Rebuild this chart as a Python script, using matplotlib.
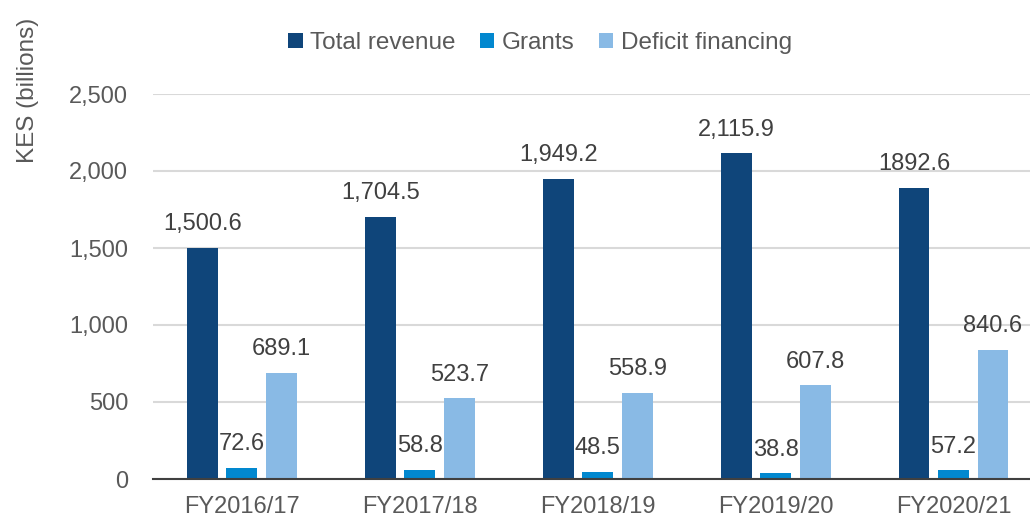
import numpy as np
import matplotlib.pyplot as plt

plt.rcParams['font.family'] = ['Liberation Sans', 'DejaVu Sans']

# Data
years = ['FY2016/17', 'FY2017/18', 'FY2018/19', 'FY2019/20', 'FY2020/21']
total_revenue = [1500.6, 1704.5, 1949.2, 2115.9, 1892.6]
grants = [72.6, 58.8, 48.5, 38.8, 57.2]
deficit = [689.1, 523.7, 558.9, 607.8, 840.6]
total_labels = ['1,500.6', '1,704.5', '1,949.2', '2,115.9', '1892.6']

c_total = '#0F457A'
c_grants = '#0288CF'
c_deficit = '#89BAE5'
grey = '#595959'

fig = plt.figure(figsize=(10.3, 5.17), dpi=100)
ax = fig.add_axes([153 / 1030, 1 - 479 / 517, (1030 - 153) / 1030, (479 - 94) / 517])

x = np.arange(len(years))
w = 0.174
off = 0.222

b1 = ax.bar(x - off, total_revenue, w, color=c_total, label='Total revenue', zorder=3)
b2 = ax.bar(x, grants, w, color=c_grants, label='Grants', zorder=3)
b3 = ax.bar(x + off, deficit, w, color=c_deficit, label='Deficit financing', zorder=3)

fs = 17
ax.bar_label(b1, labels=total_labels, padding=9, fontsize=fs, color='#404040')
ax.bar_label(b2, labels=[f'{v:.1f}' for v in grants], padding=9, fontsize=fs, color='#404040')
ax.bar_label(b3, labels=[f'{v:.1f}' for v in deficit], padding=9, fontsize=fs, color='#404040')

ax.set_ylim(0, 2500)
ax.set_xlim(-0.5, 4.43)
ax.set_yticks(np.arange(0, 2501, 500))
ax.set_yticklabels([f'{v:,}' for v in range(0, 2501, 500)])
ax.set_xticks(x)
ax.set_xticklabels(years)
ax.tick_params(axis='both', length=0, labelsize=fs, colors=grey)
ax.tick_params(axis='y', pad=18)
ax.tick_params(axis='x', pad=12)

ax.grid(axis='y', color='#D9D9D9', linewidth=1.5, zorder=0)
for s in ['top', 'right', 'left']:
    ax.spines[s].set_visible(False)
ax.spines['bottom'].set_color('#404040')
ax.spines['bottom'].set_linewidth(1.5)
ax.spines['bottom'].set_zorder(4)

fig.text(28 / 1030, 1 - 90 / 517, 'KES (billions)', rotation=90, fontsize=17.5,
         color=grey, ha='center', va='center')

fig.legend(handles=[b1, b2, b3], loc='center', bbox_to_anchor=(540 / 1030, 1 - 43 / 517),
           ncol=3, frameon=False, fontsize=17.5, handlelength=0.6, handleheight=0.6,
           handletextpad=0.3, columnspacing=1.0, labelcolor=grey)

fig.savefig('out.png', dpi=100)
